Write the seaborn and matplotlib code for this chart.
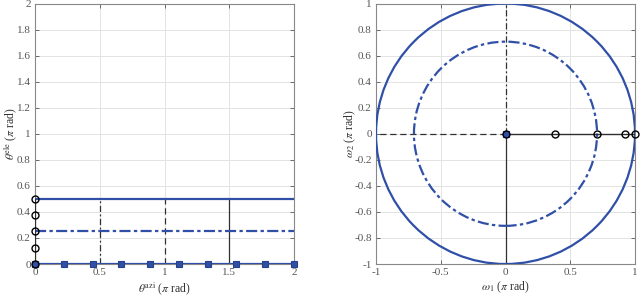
import numpy as np
import matplotlib
matplotlib.use("Agg")
import matplotlib.pyplot as plt
import seaborn as sns
import pandas as pd
from matplotlib.patches import Circle

sns.set_theme(style="white")
plt.rcParams['font.family'] = ['Liberation Serif', 'DejaVu Serif']
plt.rcParams['mathtext.fontset'] = 'stix'

BLUE = "#3050a8"
BLACK = "#303030"

# ---- Left panel data ----
azi_full = [0, 2]                     # horizontal lines span (pi rad)
ele_levels = [0.5, 0.25, 0.0]         # elevation lines
ele_styles = ['-', (0, (5, 1.5, 1.5, 1.5)), '-']
square_azi = [0, 2/9, 4/9, 6/9, 8/9, 10/9, 12/9, 14/9, 16/9, 2]
square_ele = [0] * 10
vert_azi = [0.5, 1.0, 1.5]
vert_styles = [(0, (5, 2, 1.5, 2)), (0, (5, 3)), '-']
vert_top = 0.5
circ_ele = [0, 0.125, 0.25, 0.375, 0.5]
circ_azi = [0, 0, 0, 0, 0]

# ---- Right panel data ----
radii = [1.0, 0.707]
radii_styles = ['-', (0, (5, 1.5, 1.5, 1.5))]
w1_circ = [0, 0.383, 0.707, 0.924, 1.0]
w2_circ = [0, 0, 0, 0, 0]
seg_x = [[0, 0], [0, -1], [0, 0]]
seg_y = [[0, 1], [0, 0], [0, -1]]
seg_styles = [(0, (5, 2, 1.5, 2)), (0, (5, 3)), '-']

fig = plt.figure(figsize=(6.4, 3.0), dpi=100)
ax1 = fig.add_axes([35/640, 1-264/300, 259/640, 260.5/300])
ax2 = fig.add_axes([376/640, 1-264/300, 259/640, 260.5/300])

tick_color = "#555555"
for ax in (ax1, ax2):
    ax.grid(True, color="#e3e3e3", linewidth=0.7)
    for s in ax.spines.values():
        s.set_color("#888888")
        s.set_linewidth(0.8)
    ax.tick_params(axis='both', which='both', labelsize=8, colors=tick_color,
                   direction='in', length=3, width=0.6, pad=3,
                   top=True, right=True, bottom=True, left=True)
    ax.set_axisbelow(True)

def seg(ax, xs, ys, **kw):
    df = pd.DataFrame({'x': xs, 'y': ys})
    sns.lineplot(data=df, x='x', y='y', ax=ax, sort=False, estimator=None,
                 errorbar=None, **kw)

# Left panel
for lvl, ls in zip(ele_levels, ele_styles):
    seg(ax1, azi_full, [lvl, lvl], color=BLUE, linewidth=1.6, linestyle=ls, zorder=3)
for xa, ls in zip(vert_azi, vert_styles):
    seg(ax1, [xa, xa], [0, vert_top], color=BLACK, linewidth=0.9, linestyle=ls, zorder=2)
seg(ax1, circ_azi, circ_ele, color=BLACK, linewidth=0.9, zorder=4)
ax1.plot(circ_azi, circ_ele, linestyle='none', marker='o', markersize=5,
         markerfacecolor='none', markeredgecolor='black', markeredgewidth=1.0,
         zorder=6, clip_on=False)
ax1.plot(square_azi, square_ele, linestyle='none', marker='s', markersize=4.5,
         markerfacecolor=BLUE, markeredgecolor="#27408a", markeredgewidth=0.8,
         zorder=5, clip_on=False)
ax1.set_xlim(0, 2)
ax1.set_ylim(0, 2)
ax1.set_xticks([0, 0.5, 1, 1.5, 2])
ax1.set_xticklabels(['0', '0.5', '1', '1.5', '2'])
ax1.set_yticks([0, 0.2, 0.4, 0.6, 0.8, 1, 1.2, 1.4, 1.6, 1.8, 2])
ax1.set_yticklabels(['0', '0.2', '0.4', '0.6', '0.8', '1', '1.2', '1.4', '1.6', '1.8', '2'])
ax1.set_xlabel(r'$\theta^{\mathrm{azi}}$ ($\pi$ rad)')
ax1.set_ylabel(r'$\theta^{\mathrm{ele}}$ ($\pi$ rad)')

# Right panel
for r, ls in zip(radii, radii_styles):
    ax2.add_patch(Circle((0, 0), r, fill=False, edgecolor=BLUE, linewidth=1.6,
                         linestyle=ls, zorder=3))
for xs, ys, ls in zip(seg_x, seg_y, seg_styles):
    seg(ax2, xs, ys, color=BLACK, linewidth=0.9, linestyle=ls, zorder=2)
seg(ax2, w1_circ, w2_circ, color=BLACK, linewidth=1.0, zorder=4)
ax2.plot(w1_circ, w2_circ, linestyle='none', marker='o', markersize=5,
         markerfacecolor='none', markeredgecolor='black', markeredgewidth=1.0,
         zorder=6, clip_on=False)
ax2.plot([0], [0], linestyle='none', marker='s', markersize=4.5,
         markerfacecolor=BLUE, markeredgecolor="#27408a", markeredgewidth=0.8, zorder=5)
ax2.set_xlim(-1, 1)
ax2.set_ylim(-1, 1)
ax2.set_xticks([-1, -0.5, 0, 0.5, 1])
ax2.set_xticklabels(['-1', '-0.5', '0', '0.5', '1'])
ax2.set_yticks([-1, -0.8, -0.6, -0.4, -0.2, 0, 0.2, 0.4, 0.6, 0.8, 1])
ax2.set_yticklabels(['-1', '-0.8', '-0.6', '-0.4', '-0.2', '0', '0.2', '0.4', '0.6', '0.8', '1'])
ax2.set_xlabel(r'$\omega_1$ ($\pi$ rad)')
ax2.set_ylabel(r'$\omega_2$ ($\pi$ rad)')

for ax, ylx in ((ax1, -0.062), (ax2, -0.07)):
    ax.set_xlabel(ax.get_xlabel(), fontsize=8.5, color="#333333", labelpad=2)
    ax.set_ylabel(ax.get_ylabel(), fontsize=8.5, color="#333333")
    ax.yaxis.set_label_coords(ylx, 0.5)
    leg = ax.get_legend()
    if leg:
        leg.remove()

fig.savefig("out.png", dpi=100)
